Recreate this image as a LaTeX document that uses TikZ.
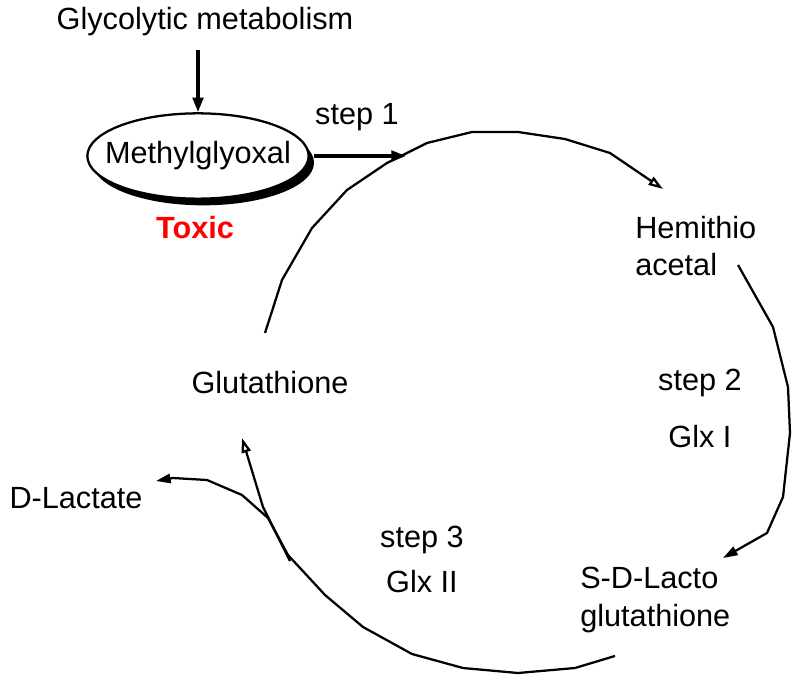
\documentclass[tikz,border=0pt]{standalone}
\usepackage{fontspec}
\setmainfont{Liberation Sans}
\usetikzlibrary{arrows.meta,positioning,shapes.geometric,shadows}

\begin{document}
\begin{tikzpicture}[x=0.75pt,y=-0.75pt,
    lbl/.style={font=\fontsize{23}{28}\selectfont, inner sep=0pt},
    ring/.style={line width=1.7pt, line join=round},
    feed/.style={line width=2.4pt, -{Triangle[length=11pt,width=8pt]}}]
    \useasboundingbox (0,0) rectangle (800,685);

    % Methylglyoxal
    \node[lbl] (glyco) at (205,22) {Glycolytic metabolism};
    \node[lbl, draw, ellipse, fill=white, line width=1.7pt,
          inner xsep=-11pt, inner ysep=8pt,
          minimum width=166pt, minimum height=64pt,
          drop shadow={shadow xshift=4pt, shadow yshift=-5pt, fill=black, opacity=1}]
          (meth) at (198,156) {Methylglyoxal};
    \node[lbl, text=red] (toxic) at (195,228) {\bfseries Toxic};
    \draw[feed, shorten <=10pt] (glyco.south -| meth.north) -- (meth.north);

    % Step 1
    \node[lbl] (step1) at (357,117) {step 1};
    \coordinate (s1end) at (406,155);
    \draw[feed] ([xshift=3pt]meth.east) -- (meth.east -| s1end);

    % Metabolites
    \node[lbl, align=left, anchor=west] (hemi) at (635,246) {Hemithio\\acetal};
    \node[lbl, align=left, anchor=west] (sdl) at (580,600) {S-D-Lacto\\glutathione};
    \node[lbl] (gsh) at (270,383) {Glutathione};
    \node[lbl] (dlac) at (76,498) {D-Lactate};

    % Enzymes
    \node[lbl] (step2) at (700,383) {step 2};
    \node[lbl] (glx1) at (700,437) {Glx I};
    \node[lbl] (step3) at (422,540) {step 3};
    \node[lbl] (glx2) at (422,582) {Glx II};

    % Cycle
    \coordinate (a1) at (265,333);
    \coordinate (a2) at (663,189);
    \coordinate (b1) at (738,265);
    \coordinate (b2) at (723,558);
    \coordinate (c1) at (615,656);
    \coordinate (c2) at (156,481);
    \coordinate (d1) at (290,561);
    \coordinate (d2) at (242,438);
    \draw[ring, -{Triangle[open,length=11pt,width=7pt]}] (a1) -- (282,280) -- (312,228)
        -- (347,190) -- (387,163) -- (427,143) -- (472,132) -- (518,132)
        -- (565,139) -- (610,153) -- (a2);
    \draw[ring, -{Triangle[length=11pt,width=7pt]}] (b1) -- (773,327) -- (788,387)
        -- (790,433) -- (783,497) -- (767,533) -- (b2);
    \draw[ring, -{Triangle[length=11pt,width=7pt]}] (c1) -- (575,668) -- (518,673)
        -- (463,668) -- (412,654) -- (363,627) -- (325,595) -- (288,555)
        -- (268,518) -- (242,495) -- (207,480) -- (173,478) -- (c2);
    \draw[ring, -{Triangle[open,length=11pt,width=7pt]}] (d1) -- (263,507) -- (d2);
\end{tikzpicture}
\end{document}
